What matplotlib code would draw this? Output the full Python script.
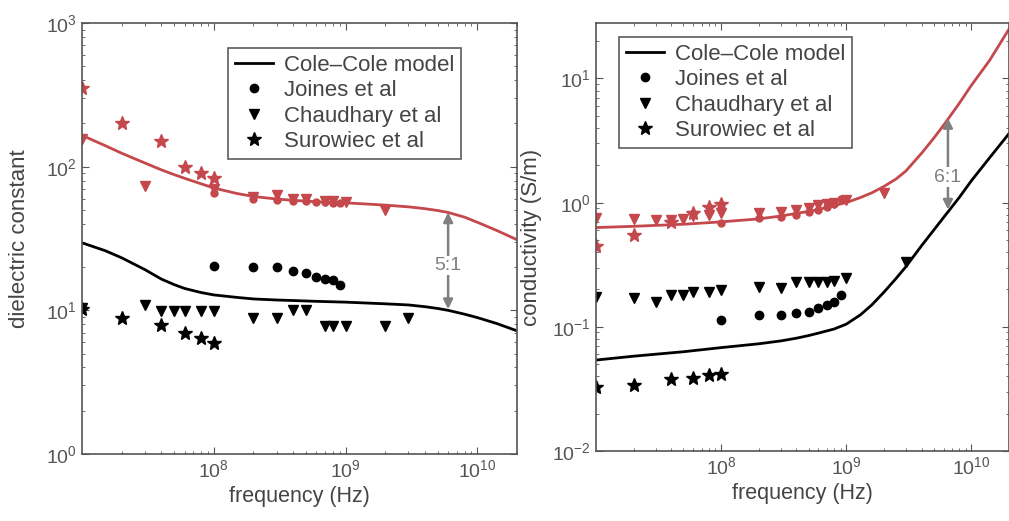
import matplotlib
matplotlib.use('Agg')
import matplotlib.pyplot as plt
from matplotlib.ticker import LogLocator, NullFormatter

plt.rcParams['font.family'] = ['Liberation Sans', 'DejaVu Sans']
plt.rcParams['mathtext.default'] = 'regular'

RED = '#c4484c'
GRAY = '#555555'

# --- dielectric constant (left panel) ---
eps_model_f = [1e7, 1.5e7, 2e7, 3e7, 4e7, 5e7, 6e7, 8e7, 1e8, 1.5e8, 2e8, 3e8, 4e8, 6e8,
               1e9, 2e9, 3e9, 4e9, 5e9, 6e9, 8e9, 1e10, 1.4e10, 2e10]
eps_model_red = [165, 140, 124, 106, 95, 88, 83, 76, 71, 65, 62, 59.5, 58.3, 57,
                 56, 54, 52.5, 51, 49.5, 48, 44.5, 41, 36, 31]
eps_model_blk = [29.5, 26, 23.2, 19.2, 16.5, 15.1, 14.2, 13.3, 12.8, 12.3, 12.0, 11.8, 11.7, 11.55,
                 11.4, 11.1, 10.9, 10.6, 10.3, 10.0, 9.4, 8.9, 8.1, 7.2]

joines_f = [1e8, 2e8, 3e8, 4e8, 5e8, 6e8, 7e8, 8e8, 9e8]
eps_joines_red = [66, 60, 59, 58, 58, 57, 57, 56, 56]
eps_joines_blk = [20.5, 20, 20, 18.8, 18.2, 17, 16.6, 16.2, 15]

eps_chaud_red_f = [1e7, 3e7, 1e8, 2e8, 3e8, 4e8, 5e8, 7e8, 8e8, 1e9, 2e9]
eps_chaud_red = [155, 73, 70, 61, 63, 60, 60, 58, 58, 57, 50]
eps_chaud_blk_f = [1e7, 3e7, 4e7, 5e7, 6e7, 8e7, 1e8, 2e8, 3e8, 4e8, 5e8, 7e8, 8e8, 1e9, 2e9, 3e9]
eps_chaud_blk = [10.3, 10.9, 9.9, 9.9, 9.9, 9.9, 9.9, 8.9, 8.9, 10, 10, 7.8, 7.8, 7.8, 7.8, 8.9]

surow_f = [1e7, 2e7, 4e7, 6e7, 8e7, 1e8]
eps_surow_red = [350, 200, 150, 100, 90, 83]
eps_surow_blk = [10.2, 8.85, 7.9, 6.9, 6.4, 5.9]

# --- conductivity (right panel) ---
sig_model_f = [1e7, 2e7, 5e7, 1e8, 2e8, 3e8, 4e8, 5e8, 6e8, 8e8, 1e9, 1.3e9, 1.6e9, 2e9,
               2.5e9, 3e9, 4e9, 5e9, 6e9, 8e9, 1e10, 1.4e10, 2e10]
sig_model_red = [0.63, 0.645, 0.67, 0.70, 0.74, 0.78, 0.82, 0.85, 0.88, 0.95, 1.0, 1.1, 1.2, 1.35,
                 1.55, 1.8, 2.5, 3.3, 4.2, 6.3, 8.8, 14, 25]
sig_model_blk = [0.054, 0.058, 0.063, 0.068, 0.073, 0.077, 0.081, 0.085, 0.089, 0.096, 0.105, 0.125,
                 0.15, 0.19, 0.245, 0.305, 0.45, 0.6, 0.76, 1.1, 1.5, 2.3, 3.6]

sig_joines_red = [0.68, 0.75, 0.77, 0.80, 0.84, 0.88, 0.93, 0.98, 1.08]
sig_joines_blk = [0.113, 0.124, 0.124, 0.129, 0.131, 0.141, 0.149, 0.158, 0.18]

sig_chaud_red_f = [1e7, 2e7, 3e7, 4e7, 5e7, 6e7, 8e7, 1e8, 2e8, 3e8, 4e8, 5e8, 6e8, 7e8, 8e8, 1e9, 2e9]
sig_chaud_red = [0.75, 0.74, 0.73, 0.72, 0.74, 0.78, 0.80, 0.82, 0.82, 0.84, 0.88, 0.90, 0.95, 0.98, 1.0, 1.05, 1.2]
sig_chaud_blk_f = [1e7, 2e7, 3e7, 4e7, 5e7, 6e7, 8e7, 1e8, 2e8, 3e8, 4e8, 5e8, 6e8, 7e8, 8e8, 1e9, 3e9]
sig_chaud_blk = [0.173, 0.17, 0.158, 0.18, 0.18, 0.19, 0.19, 0.197, 0.209, 0.205, 0.228, 0.228, 0.23, 0.23, 0.232, 0.246, 0.33]

sig_surow_red = [0.45, 0.55, 0.70, 0.82, 0.93, 0.97]
sig_surow_blk = [0.033, 0.034, 0.038, 0.039, 0.041, 0.042]

# ratio arrows (frequency, low, high, label position, label)
eps_arrow = (6e9, 10.2, 48, 20.5, '5:1')
sig_arrow = (6.5e9, 0.88, 4.8, 1.6, '6:1')

fig = plt.figure(figsize=(10.09, 5.21), dpi=100)
ax1 = fig.add_axes([0.0813, 0.1286, 0.4311, 0.8273])
ax2 = fig.add_axes([0.5907, 0.1344, 0.4093, 0.8215])


def draw_panel(ax, mf, mr, mb, jr, jb, cfr, cr, cfb, cb, sr, sb, arrow):
    ax.plot(mf, mr, color=RED, lw=2)
    ax.plot(mf, mb, color='black', lw=2, label='Cole\u2013Cole model')
    ax.plot(joines_f, jr, 'o', color=RED, ms=5)
    ax.plot(cfr, cr, 'v', color=RED, ms=7)
    ax.plot(surow_f, sr, '*', color=RED, ms=10)
    ax.plot(joines_f, jb, 'o', color='black', ms=6, label='Joines et al')
    ax.plot(cfb, cb, 'v', color='black', ms=7, label='Chaudhary et al')
    ax.plot(surow_f, sb, '*', color='black', ms=10, label='Surowiec et al')

    f, lo, hi, mid, txt = arrow
    ax.annotate('', xy=(f, hi), xytext=(f, lo),
                arrowprops=dict(arrowstyle='<|-|>', color='#808080', lw=1.8,
                                mutation_scale=14, shrinkA=0, shrinkB=0))
    ax.text(f, mid, txt, ha='center', va='center', fontsize=14, color='#808080',
            bbox=dict(facecolor='white', edgecolor='none', pad=1))

    ax.set_xscale('log')
    ax.set_yscale('log')
    ax.set_xlim(1e7, 2e10)
    ax.set_xticks([1e8, 1e9, 1e10])
    ax.xaxis.set_minor_locator(LogLocator(base=10, subs=range(2, 10), numticks=20))
    ax.xaxis.set_minor_formatter(NullFormatter())
    ax.yaxis.set_minor_locator(LogLocator(base=10, subs=range(2, 10), numticks=20))
    ax.yaxis.set_minor_formatter(NullFormatter())
    ax.tick_params(which='both', direction='in', top=True, right=True,
                   colors=GRAY, labelsize=14)
    ax.tick_params(which='major', length=5)
    ax.tick_params(which='minor', length=2.5)
    for s in ax.spines.values():
        s.set_color(GRAY)
        s.set_linewidth(1.2)
    ax.set_xlabel('frequency (Hz)', fontsize=15.5, color='#444444', labelpad=4)


draw_panel(ax1, eps_model_f, eps_model_red, eps_model_blk,
           eps_joines_red, eps_joines_blk, eps_chaud_red_f, eps_chaud_red,
           eps_chaud_blk_f, eps_chaud_blk, eps_surow_red, eps_surow_blk, eps_arrow)
ax1.set_ylim(1, 1000)
ax1.set_yticks([1, 10, 100, 1000])
ax1.set_ylabel('dielectric constant', fontsize=16, color='#444444')
ax1.yaxis.set_label_coords(-0.12, 0.5)

draw_panel(ax2, sig_model_f, sig_model_red, sig_model_blk,
           sig_joines_red, sig_joines_blk, sig_chaud_red_f, sig_chaud_red,
           sig_chaud_blk_f, sig_chaud_blk, sig_surow_red, sig_surow_blk, sig_arrow)
ax2.set_ylim(0.01, 28)
ax2.set_yticks([0.01, 0.1, 1, 10])
ax2.set_ylabel('conductivity (S/m)', fontsize=16, color='#444444')
ax2.yaxis.set_label_coords(-0.131, 0.5)

for ax, anchor in ((ax1, (0.336, 0.942)), (ax2, (0.056, 0.967))):
    leg = ax.legend(loc='upper left', bbox_to_anchor=anchor, fontsize=16,
                    frameon=True, fancybox=False, borderpad=0.3,
                    labelspacing=0.2, handlelength=1.7, handletextpad=0.5,
                    borderaxespad=0)
    leg.get_frame().set_edgecolor('#333333')
    leg.get_frame().set_linewidth(1.2)
    for t in leg.get_texts():
        t.set_color('#444444')

fig.savefig('out.png', dpi=100)
